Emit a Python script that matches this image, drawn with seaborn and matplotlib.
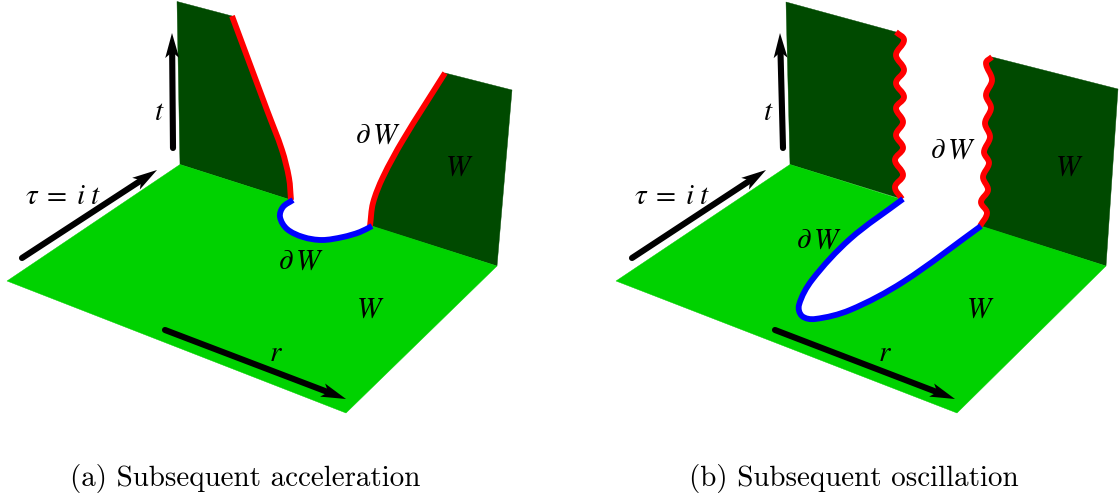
import numpy as np
import pandas as pd
import matplotlib
matplotlib.use("Agg")
import matplotlib.pyplot as plt
from matplotlib.path import Path
from matplotlib.patches import PathPatch, Polygon
import seaborn as sns

sns.set_theme(style="white")
plt.rcParams["mathtext.fontset"] = "stix"

FLOOR = "#00d200"
WALL = "#004a00"
RED = "#ff0000"
BLUE = "#0000ff"

# Panel (a), picture coordinates
a_floor_left = [(7, 281), (180, 164.5), (291, 200)]
a_floor_right = [(372, 226), (497, 266), (346, 413)]
a_blue = [(293, 200), (283, 207), (280, 217), (287, 229), (303, 237), (322, 240),
          (343, 237), (360, 232), (372, 226)]
a_wall_l_corners = [(180, 164.5), (177, 1.5), (232, 16)]
a_red_l = [(232, 16), (267, 110), (282, 150), (289, 178), (291, 200)]
a_wall_r_corners = [(512, 90), (497, 266), (371, 226)]
a_red_r = [(370, 226), (373, 203), (383, 177), (403, 140), (445, 73)]

# Panel (b), picture coordinates
b_floor_left = [(616, 281), (790, 164.5), (900, 199)]
b_floor_right = [(981, 226), (1106, 266), (957, 413)]
b_blue = [(903, 199), (850, 239), (812, 280), (799, 305), (802, 316),
          (815, 319), (850, 310), (903, 282), (981, 226)]
b_wall_l_corners = [(790, 164.5), (786, 2)]
b_red_l = [(896, 32), (904, 40), (896, 55), (904, 70), (896, 83), (904, 97), (896, 108),
           (903, 122), (896, 135), (903, 148), (895, 160), (903, 175), (895, 187), (902, 199)]
b_wall_r_corners = [(1118, 89), (1106, 266), (980, 226)]
b_red_r = [(980, 226), (987, 213), (981, 202), (988, 190), (983, 177), (989, 163),
           (984, 152), (990, 137), (985, 123), (991, 108), (986, 95), (992, 80), (986, 63), (992, 57)]

# Arrows: tail and tip
arrow_names = ["a_tau", "a_t", "a_r", "b_tau", "b_t", "b_r"]
arrow_tails = [(22, 258), (173, 148), (165, 330), (632, 258), (783, 148), (775, 330)]
arrow_tips = [(157, 170), (172, 33), (346, 399), (766, 170), (780, 33), (955, 399)]

# Labels
label_texts = [r"$W$", r"$W$", r"$\partial\,W$", r"$\partial\,W$", r"$t$", r"$\tau\;=\;i\;t$", r"$r$",
               r"$W$", r"$W$", r"$\partial\,W$", r"$\partial\,W$", r"$t$", r"$\tau\;=\;i\;t$", r"$r$"]
label_pos = [(370, 309), (459, 167), (378, 135), (301, 261), (159, 112), (63, 196), (276, 353),
             (980, 309), (1069, 167), (953, 150), (819, 240), (768, 112), (672, 196), (885, 353)]
captions = ["(a) Subsequent acceleration", "(b) Subsequent oscillation"]
caption_pos = [(245, 478), (854, 478)]


def curve_segments(pts):
    """Smooth Bezier segments through the read points (path vertices and codes)."""
    p = np.asarray(pts, float)
    ext = np.vstack([p[0], p, p[-1]])
    tang = []
    for i in range(1, len(ext) - 1):
        v = ext[i + 1] - ext[i - 1]
        tang.append(v / np.linalg.norm(v))
    verts, codes = [], []
    for i in range(len(p) - 1):
        seg = np.linalg.norm(p[i + 1] - p[i])
        verts += [p[i] + tang[i] * seg / 3, p[i + 1] - tang[i + 1] * seg / 3, p[i + 1]]
        codes += [Path.CURVE4] * 3
    return verts, codes


def curve_path(pts):
    v, c = curve_segments(pts)
    return Path([pts[0]] + v, [Path.MOVETO] + c)


def region_path(parts):
    """parts: list of (kind, points); kind 'L' straight, 'C' smooth curve."""
    verts, codes = [], []
    for kind, pts in parts:
        if kind == "L":
            for q in pts:
                verts.append(q)
                codes.append(Path.LINETO if verts[:-1] else Path.MOVETO)
        else:
            verts.append(pts[0])
            codes.append(Path.LINETO if verts[:-1] else Path.MOVETO)
            v, c = curve_segments(pts)
            verts += v
            codes += c
    verts.append(verts[0])
    codes.append(Path.CLOSEPOLY)
    return Path(verts, codes)


fig = plt.figure(figsize=(11.19, 5.0), dpi=100)
ax = fig.add_axes([0, 0, 1, 1])
ax.set_xlim(0, 1119)
ax.set_ylim(500, 0)
ax.axis("off")

LW = 4.2


def fill(parts, color, z):
    ax.add_patch(PathPatch(region_path(parts), fc=color, ec=color, lw=0.3, zorder=z))


def stroke(pts, color, z, cap="butt"):
    ax.add_patch(PathPatch(curve_path(pts), fc="none", ec=color, lw=LW, capstyle=cap,
                           joinstyle="round", zorder=z))


# Walls
fill([("L", a_wall_l_corners), ("C", a_red_l)], WALL, 1)
fill([("C", a_red_r), ("L", a_wall_r_corners)], WALL, 1)
fill([("L", b_wall_l_corners), ("C", b_red_l)], WALL, 1)
fill([("C", b_red_r), ("L", b_wall_r_corners)], WALL, 1)

# Floors
fill([("L", a_floor_left), ("C", a_blue), ("L", a_floor_right)], FLOOR, 2)
fill([("L", b_floor_left), ("C", b_blue), ("L", b_floor_right)], FLOOR, 2)

# Boundary curves
for pts in (a_red_l, a_red_r, b_red_l, b_red_r):
    stroke(pts, RED, 3)
for pts in (a_blue, b_blue):
    stroke(pts, BLUE, 4)

# Arrows
HEAD_LEN, HEAD_HALF, NOTCH = 25.0, 7.0, 19.0
for name, tail, tip in zip(arrow_names, arrow_tails, arrow_tips):
    t0, t1 = np.array(tail, float), np.array(tip, float)
    d = (t1 - t0) / np.linalg.norm(t1 - t0)
    n = np.array([-d[1], d[0]])
    stop = t1 - d * NOTCH * 0.95
    df = pd.DataFrame({"x": [t0[0], stop[0]], "y": [t0[1], stop[1]]})
    sns.lineplot(data=df, x="x", y="y", ax=ax, color="black", lw=4.4, sort=False,
                 estimator=None, solid_capstyle="round", zorder=5, legend=False)
    ax.add_patch(Polygon([t1, t1 - d * HEAD_LEN + n * HEAD_HALF, t1 - d * NOTCH,
                          t1 - d * HEAD_LEN - n * HEAD_HALF], closed=True,
                         fc="black", ec="none", zorder=6))
ax.set_xlabel("")
ax.set_ylabel("")
ax.set_xlim(0, 1119)
ax.set_ylim(500, 0)

for s, (x, y) in zip(label_texts, label_pos):
    ax.text(x, y, s, fontsize=21, color="black", ha="center", va="center", zorder=7)

for s, (x, y) in zip(captions, caption_pos):
    ax.text(x, y, s, family="cmr10", fontsize=20.9, color="black", ha="center", va="center", zorder=7)

fig.savefig("out.png", dpi=100)
